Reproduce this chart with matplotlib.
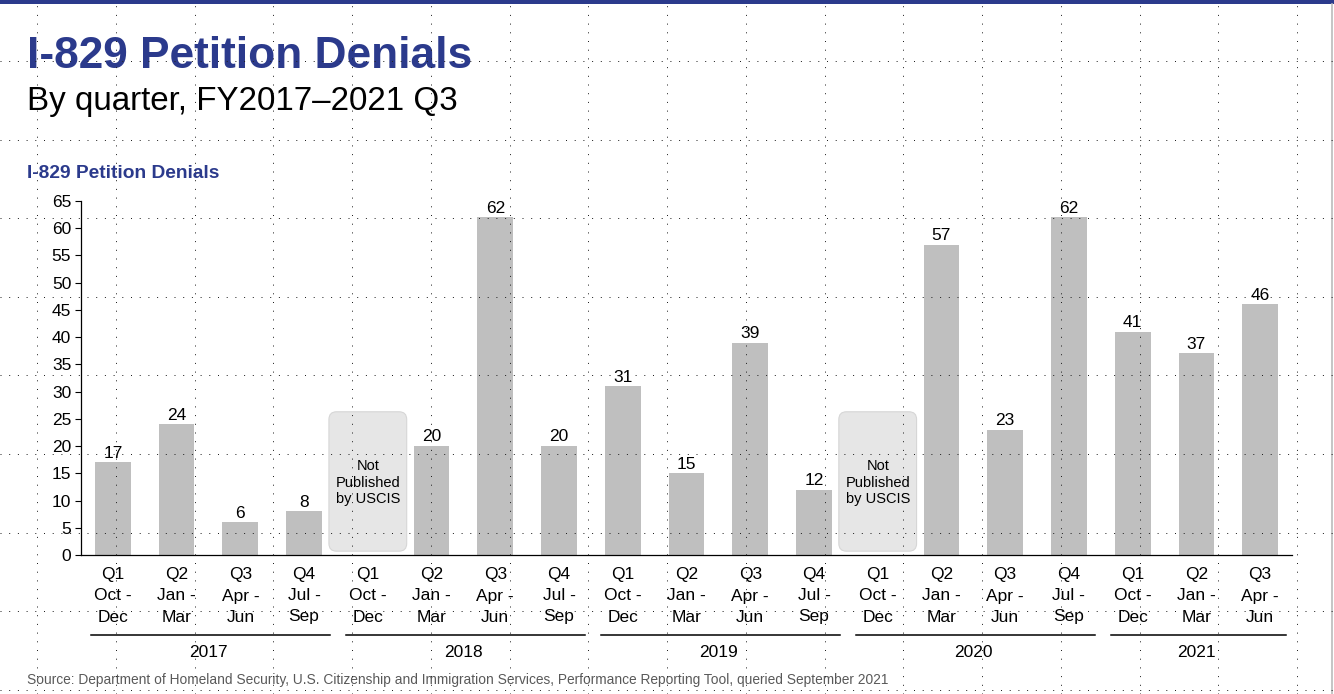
import matplotlib
matplotlib.use("Agg")
import matplotlib.pyplot as plt
from matplotlib.lines import Line2D
from matplotlib.patches import FancyBboxPatch, Rectangle

plt.rcParams['font.family'] = ['Liberation Sans', 'DejaVu Sans']

# ---------------- data ----------------
quarters = ["Q1\nOct -\nDec", "Q2\nJan -\nMar", "Q3\nApr -\nJun", "Q4\nJul -\nSep"]
years = ["2017", "2018", "2019", "2020", "2021"]
quarters_per_year = [4, 4, 4, 4, 3]
denials = [17, 24, 6, 8, None, 20, 62, 20, 31, 15, 39, 12, None, 57, 23, 62, 41, 37, 46]
yticks = list(range(0, 70, 5))
not_published_label = "Not\nPublished\nby USCIS"
title = "I-829 Petition Denials"
subtitle = "By quarter, FY2017\u20132021 Q3"
chart_title = "I-829 Petition Denials"
source = ("Source: Department of Homeland Security, U.S. Citizenship and Immigration Services, "
          "Performance Reporting Tool, queried September 2021")

NAVY = "#2B3A8C"
BAR = "#BFBFBF"

W, H = 1334, 694
fig = plt.figure(figsize=(W / 100, H / 100), dpi=100)
fig.patch.set_facecolor("white")

ax = fig.add_axes([81 / W, 1 - 555 / H, (1292 - 81) / W, (555 - 201) / H])

labels = []
for n in quarters_per_year:
    labels.extend(quarters[:n])
x = list(range(len(denials)))

bar_w = 0.56
for xi, v in zip(x, denials):
    if v is None:
        continue
    ax.bar(xi, v, width=bar_w, color=BAR, zorder=2)
    ax.annotate(str(v), (xi, v), xytext=(0, 1.2), textcoords="offset points",
                ha="center", va="bottom", fontsize=12.5, color="black")

# Not published boxes
xpx = (1292 - 81) / len(denials)
ypx = (555 - 201) / 65.0
for xi, v in zip(x, denials):
    if v is None:
        box = FancyBboxPatch((xi - 0.61, 0.7), 1.22, 25.6,
                             boxstyle="round,pad=0,rounding_size=0.12",
                             mutation_aspect=xpx / ypx,
                             facecolor="#E6E6E6", edgecolor="#D6D6D6", lw=0.8, zorder=1)
        ax.add_patch(box)
        ax.text(xi, 13.3, not_published_label, ha="center", va="center",
                fontsize=10.5, linespacing=1.2, color="black", zorder=3)

ax.set_xlim(-0.5, len(denials) - 0.5)
ax.set_ylim(0, 65)
ax.set_yticks(yticks)
ax.set_yticklabels([str(t) for t in yticks], fontsize=12.5)
ax.set_xticks(x)
ax.set_xticklabels(labels, fontsize=12.5, linespacing=1.5)
ax.tick_params(axis="x", length=0, pad=9.0)
ax.tick_params(axis="y", length=4, width=0.8, pad=3, direction="out")
for s in ["top", "right"]:
    ax.spines[s].set_visible(False)
ax.spines["left"].set_linewidth(0.9)
ax.spines["bottom"].set_linewidth(0.9)
ax.set_facecolor("none")

# year groups
start = 0
for yr, n in zip(years, quarters_per_year):
    first, last = start, start + n - 1
    ax.plot([first - 0.34, last + 0.41], [-14.7, -14.7], color="black", lw=1.1,
            clip_on=False, transform=ax.transData)
    ax.text((first + last) / 2, -17.9, yr, ha="center", va="center", fontsize=12.5)
    start += n

# titles
fig.text(27 / W, 1 - 68 / H, title, fontsize=31.9, fontweight="bold", color=NAVY,
         ha="left", va="baseline")
fig.text(27 / W, 1 - 110 / H, subtitle, fontsize=23.9, color="black",
         ha="left", va="baseline")
fig.text(27 / W, 1 - 178 / H, chart_title, fontsize=13.8, fontweight="bold", color=NAVY,
         ha="left", va="baseline")
fig.text(27 / W, 1 - 684 / H, source, fontsize=9.9, color="#595959",
         ha="left", va="baseline")

# top band and right edge
fig.add_artist(Rectangle((0, 1 - 4 / H), 1, 4 / H, transform=fig.transFigure,
                         facecolor=NAVY, edgecolor="none", zorder=5))
fig.add_artist(Line2D([1332 / W, 1332 / W], [0, 1 - 4 / H], transform=fig.transFigure,
                      color="#BBBBBB", lw=1.2, zorder=5))

# background dotted guide grid
vx = [37 + 78.75 * k for k in range(17)]
hy = [61 + 78.6 * k for k in range(9)]
for gx in vx:
    fig.add_artist(Line2D([gx / W, gx / W], [0, 1 - 5 / H], transform=fig.transFigure,
                          color="#222222", lw=0.72, linestyle=(0, (1, 7.7)), zorder=10))
for gy in hy:
    fig.add_artist(Line2D([0, 1], [1 - gy / H, 1 - gy / H], transform=fig.transFigure,
                          color="#222222", lw=0.72, linestyle=(0, (1, 7.7)), zorder=10))

fig.savefig("out.png", dpi=100)
